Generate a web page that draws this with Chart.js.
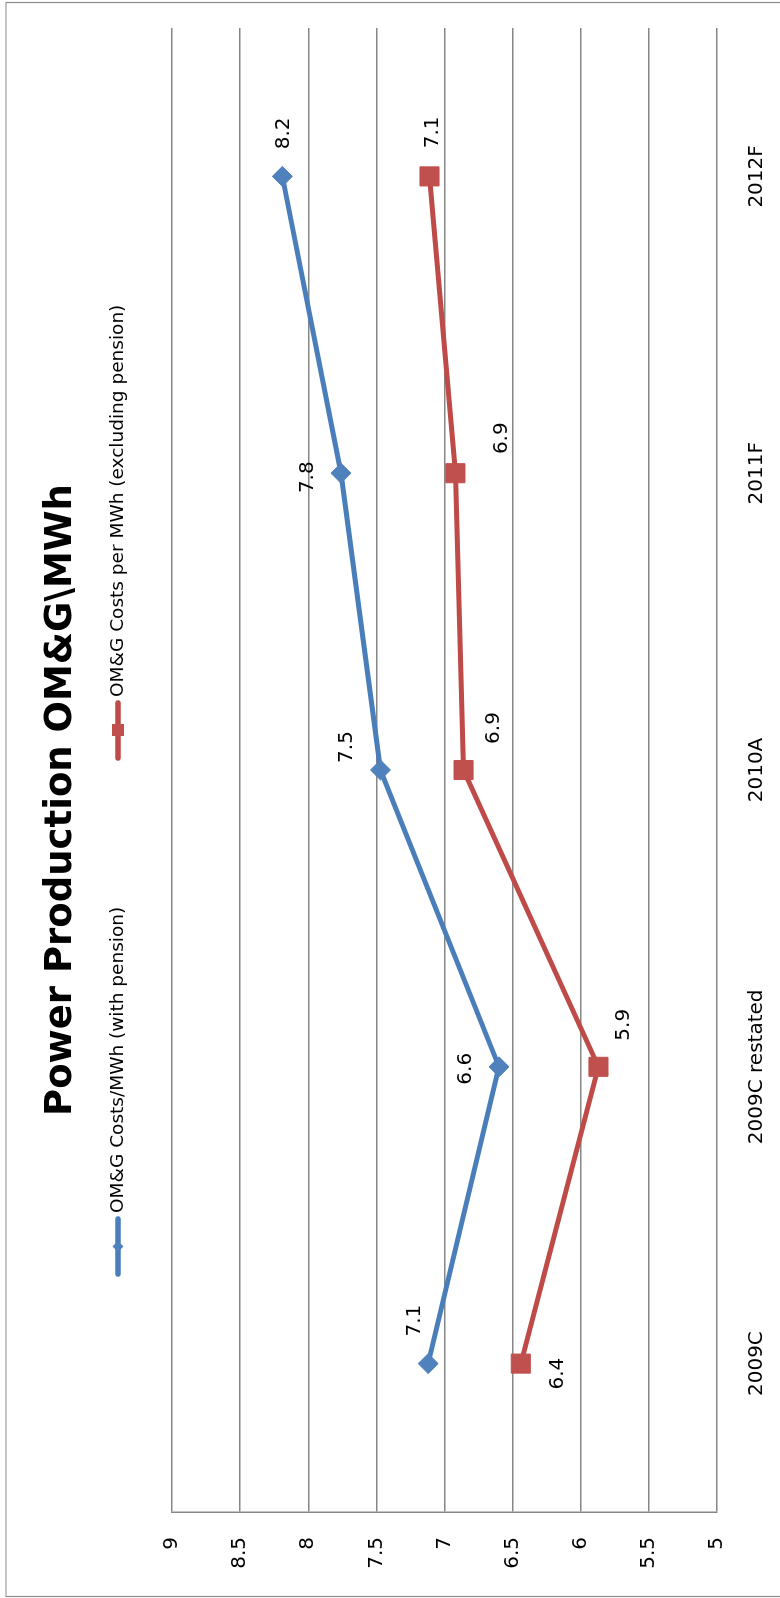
<!DOCTYPE html>
<html>
<head>
<meta charset="utf-8">
<title>Power Production OM&amp;G\MWh</title>
<script src="https://cdn.jsdelivr.net/npm/chart.js@4"></script>
<style>
    html, body { margin: 0; padding: 0; background: #fff; }
    body { width: 780px; height: 1598px; overflow: hidden; position: relative; }
    /* chart is laid out landscape, then turned on its side */
    #omgChart {
        position: absolute;
        left: 0;
        top: 0;
        transform-origin: 0 0;
        transform: translate(0px, 1598px) rotate(-90deg);
    }
</style>
</head>
<body>
<canvas id="omgChart" width="1598" height="780"></canvas>
<script>
const chartTitle = 'Power Production OM&G\\MWh';
const years = ['2009C', '2009C restated', '2010A', '2011F', '2012F'];
const withPension = [7.12, 6.60, 7.47, 7.76, 8.19];
const exclPension = [6.44, 5.87, 6.86, 6.92, 7.11];
const valueTicks = [5, 5.5, 6, 6.5, 7, 7.5, 8, 8.5, 9];

// where each value label sits relative to its marker (px)
const withPensionLabelPos = [[43, -14], [-2, -34], [23, -35], [-4, -34], [43, 0]];
const exclPensionLabelPos = [[-10, 36], [42, 24], [42, 29], [35, 45], [44, 2]];

const FONT = '"DejaVu Sans", sans-serif';
const BLUE = '#4a7ebb';
const RED = '#be4b48';
const GRID = '#868686';

const frame = {
    id: 'frame',
    beforeDraw(chart) {
        const ctx = chart.ctx;
        ctx.save();
        ctx.fillStyle = '#fff';
        ctx.fillRect(0, 0, chart.width, chart.height);
        ctx.strokeStyle = '#8c8c8c';
        ctx.lineWidth = 1.2;
        ctx.beginPath();
        ctx.moveTo(1.5, chart.height);
        ctx.lineTo(1.5, 6);
        ctx.lineTo(1595.5, 6);
        ctx.lineTo(1595.5, chart.height);
        ctx.stroke();
        ctx.restore();
    }
};

const titleAndLegend = {
    id: 'titleAndLegend',
    afterDraw(chart) {
        const ctx = chart.ctx;
        ctx.save();
        ctx.fillStyle = '#000';
        ctx.textAlign = 'center';
        ctx.textBaseline = 'alphabetic';
        ctx.font = 'bold 37px ' + FONT;
        ctx.fillText(chartTitle, 798, 71);

        const items = [{ x: 324 }, { x: 840 }];
        chart.data.datasets.forEach((ds, i) => {
            const x0 = items[i].x;
            const y = 118;
            ctx.strokeStyle = ds.borderColor;
            ctx.lineWidth = 5.5;
            ctx.lineCap = 'round';
            ctx.beginPath();
            ctx.moveTo(x0, y);
            ctx.lineTo(x0 + 55, y);
            ctx.stroke();
            ctx.fillStyle = ds.pointBackgroundColor;
            ctx.beginPath();
            if (ds.pointStyle === 'rect') {
                ctx.rect(x0 + 22, y - 6, 12, 12);
            } else {
                ctx.moveTo(x0 + 22, y);
                ctx.lineTo(x0 + 27.5, y - 5.5);
                ctx.lineTo(x0 + 33, y);
                ctx.lineTo(x0 + 27.5, y + 5.5);
                ctx.closePath();
            }
            ctx.fill();
            ctx.fillStyle = '#000';
            ctx.textAlign = 'left';
            ctx.font = '18.5px ' + FONT;
            ctx.fillText(ds.label, x0 + 61, 123);
        });
        ctx.restore();
    }
};

const valueLabels = {
    id: 'valueLabels',
    afterDatasetsDraw(chart) {
        const ctx = chart.ctx;
        const offsets = [withPensionLabelPos, exclPensionLabelPos];
        ctx.save();
        ctx.fillStyle = '#000';
        ctx.font = '20px ' + FONT;
        ctx.textAlign = 'center';
        ctx.textBaseline = 'middle';
        chart.data.datasets.forEach((ds, i) => {
            chart.getDatasetMeta(i).data.forEach((pt, j) => {
                const [dx, dy] = offsets[i][j];
                ctx.fillText(ds.data[j].toFixed(1), pt.x + dx, pt.y + dy + 1);
            });
        });
        ctx.restore();
    }
};

new Chart(document.getElementById('omgChart'), {
    type: 'line',
    data: {
        labels: years,
        datasets: [
            {
                label: 'OM&G Costs/MWh (with pension)',
                data: withPension,
                borderColor: BLUE,
                borderWidth: 5,
                pointStyle: 'rectRot',
                pointRadius: 10,
                pointBorderWidth: 1,
                pointBackgroundColor: '#4f81bd',
                pointBorderColor: '#4f81bd',
                tension: 0
            },
            {
                label: 'OM&G Costs per MWh (excluding pension)',
                data: exclPension,
                borderColor: RED,
                borderWidth: 5,
                pointStyle: 'rect',
                pointRadius: 13.5,
                pointBorderWidth: 1,
                pointBackgroundColor: '#c0504d',
                pointBorderColor: '#c0504d',
                tension: 0
            }
        ]
    },
    options: {
        responsive: false,
        animation: false,
        devicePixelRatio: 1,
        layout: { padding: { top: 172, left: 0, right: 28, bottom: 0 } },
        plugins: {
            legend: { display: false },
            title: { display: false },
            tooltip: { enabled: false }
        },
        scales: {
            x: {
                offset: true,
                grid: { display: false, drawTicks: false },
                border: { display: false },
                ticks: { color: '#000', font: { family: FONT, size: 20 }, padding: 28, maxRotation: 0, autoSkip: false },
                afterFit: (s) => { s.height = 63; }
            },
            y: {
                min: 5,
                max: 9,
                afterBuildTicks: (s) => { s.ticks = valueTicks.map(v => ({ value: v })); },
                ticks: {
                    color: '#000',
                    font: { family: FONT, size: 20 },
                    padding: 25,
                    callback: (v) => String(v)
                },
                grid: { color: GRID, lineWidth: 1.5, drawTicks: false },
                border: { color: GRID, width: 1.5 },
                afterFit: (s) => { s.width = 86; }
            }
        }
    },
    plugins: [frame, titleAndLegend, valueLabels]
});
</script>
</body>
</html>
